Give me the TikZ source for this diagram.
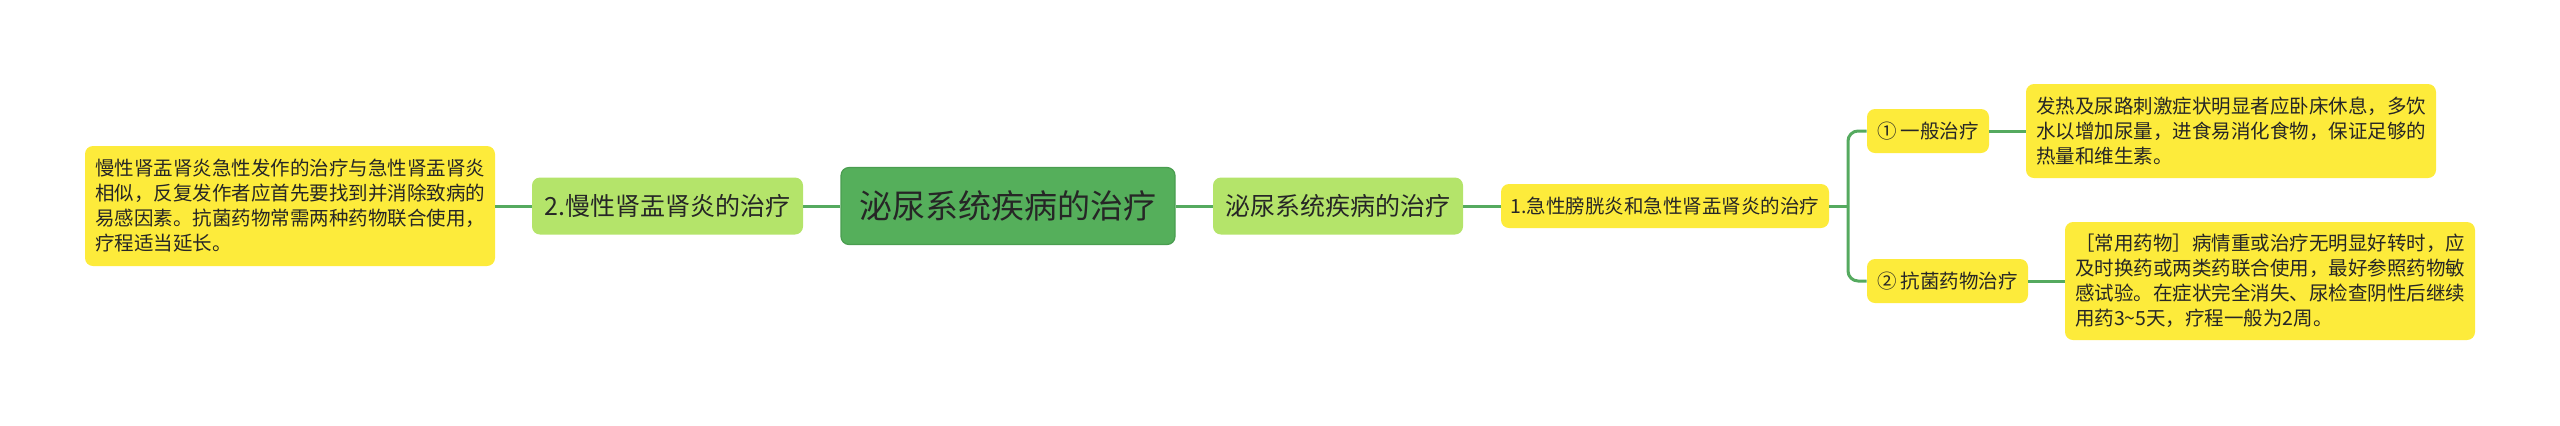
\documentclass[tikz,border=0pt]{standalone}
\usepackage{fontspec}
\setmainfont{Noto Sans CJK SC}
\definecolor{ink}{HTML}{262626}
\definecolor{rootgreen}{HTML}{55AF5B}
\definecolor{rootdark}{HTML}{4A9D50}
\definecolor{lightgreen}{HTML}{B4E46A}
\definecolor{leafyellow}{HTML}{FDEB3B}
\definecolor{linkgreen}{HTML}{55AA5F}

\begin{document}
\begin{tikzpicture}
		[x=0.5pt, y=-0.5pt,
		box/.style ={rectangle, rounded corners=4pt, text=ink, inner sep=0pt, align=center},
		root/.style ={box, draw=rootdark, line width=0.6pt, fill=rootgreen, minimum width=167pt, minimum height=38.5pt, font=\fontsize{16.5pt}{20pt}\selectfont},
		topic/.style ={box, fill=lightgreen, minimum height=28.5pt, font=\fontsize{12.5pt}{15pt}\selectfont},
		leaf/.style ={box, fill=leafyellow, minimum height=22pt, font=\fontsize{9.75pt}{12.5pt}\selectfont},
		note/.style ={leaf, text width=195pt, align=left, inner xsep=5pt},
		link/.style ={draw=linkgreen, line width=1.5pt},
		]

		\useasboundingbox (0,0) rectangle (2560,425);

		\draw (290,206) node[note, minimum height=60pt] (M1) {慢性肾盂肾炎急性发作的治疗与急性肾盂肾炎\\相似，反复发作者应首先要找到并消除致病的\\易感因素。抗菌药物常需两种药物联合使用，\\疗程适当延长。};
		\draw (667.5,206) node[topic, minimum width=135.5pt] (M2) {2.慢性肾盂肾炎的治疗};
		\draw (1008,206) node[root] (M3) {泌尿系统疾病的治疗};
		\draw (1338,206) node[topic, minimum width=125pt] (M4) {泌尿系统疾病的治疗};
		\draw (1665,206) node[leaf, minimum width=164pt] (M5) {1.急性膀胱炎和急性肾盂肾炎的治疗};
		\draw (1928,131) node[leaf, minimum width=61pt] (M6) {① 一般治疗};
		\draw (2231,131) node[note, minimum height=47pt] (M7) {发热及尿路刺激症状明显者应卧床休息，多饮\\水以增加尿量，进食易消化食物，保证足够的\\热量和维生素。};
		\draw (1947.5,281) node[leaf, minimum width=80.5pt] (M8) {② 抗菌药物治疗};
		\draw (2270,281) node[note, minimum height=59pt] (M9) {［常用药物］病情重或治疗无明显好转时，应\\及时换药或两类药联合使用，最好参照药物敏\\感试验。在症状完全消失、尿检查阴性后继续\\用药3\textasciitilde5天，疗程一般为2周。};
		\coordinate (J) at (1848,206);

		\path[link]
		(M2) edge (M1)
		(M3) edge (M2)
		(M3) edge (M4)
		(M4) edge (M5)
		(M6) edge (M7)
		(M8) edge (M9);
		\draw[link] (M5) -- (J);
		\draw[link, rounded corners=5pt] (J) |- (M6);
		\draw[link, rounded corners=5pt] (J) |- (M8);

	\end{tikzpicture}
\end{document}
